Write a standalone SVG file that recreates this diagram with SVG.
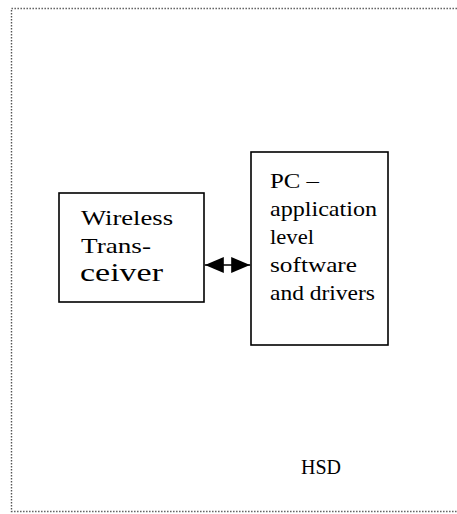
<svg xmlns="http://www.w3.org/2000/svg" width="457" height="514" viewBox="0 0 457 514">
  <style>
    .frame { fill: none; stroke: #555; stroke-width: 1.4; stroke-dasharray: 1.4 1.6; }
    .box { fill: #fff; stroke: #000; stroke-width: 1.6; }
    .lbl { font-family: "Liberation Serif", "Times New Roman", serif; font-size: 22px; fill: #000; }
    .big { font-size: 25px; }
    .link { stroke: #000; stroke-width: 1.5; fill: none; }
  </style>
  <defs>
    <marker id="head" viewBox="0 0 19 16" refX="19" refY="8" markerWidth="19" markerHeight="16" markerUnits="userSpaceOnUse" orient="auto-start-reverse">
      <path d="M0,0 L19,8 L0,16 Z" fill="#000"/>
    </marker>
  </defs>

  <!-- dotted system boundary -->
  <rect class="frame" x="11.5" y="8.5" width="460" height="503"/>

  <g id="transceiver">
    <rect class="box" x="59" y="193" width="145" height="109"/>
    <text class="lbl" x="81" y="225" textLength="92" lengthAdjust="spacingAndGlyphs">Wireless</text>
    <text class="lbl" x="81" y="253" textLength="70" lengthAdjust="spacingAndGlyphs">Trans-</text>
    <text class="lbl big" x="80" y="281" textLength="83" lengthAdjust="spacingAndGlyphs">ceiver</text>
  </g>

  <g id="pc">
    <rect class="box" x="251" y="152" width="137" height="193"/>
    <text class="lbl" x="270" y="188" textLength="49" lengthAdjust="spacingAndGlyphs">PC –</text>
    <text class="lbl" x="270" y="216" textLength="107" lengthAdjust="spacingAndGlyphs">application</text>
    <text class="lbl" x="270" y="244" textLength="44" lengthAdjust="spacingAndGlyphs">level</text>
    <text class="lbl" x="270" y="272" textLength="87" lengthAdjust="spacingAndGlyphs">software</text>
    <text class="lbl" x="270" y="300" textLength="105" lengthAdjust="spacingAndGlyphs">and drivers</text>
  </g>

  <g id="hsd">
    <text class="lbl" x="301" y="474" textLength="40" lengthAdjust="spacingAndGlyphs">HSD</text>
  </g>

  <g id="connectors">
    <!-- two-way link between transceiver and PC -->
    <path class="link" d="M224,265 H231"/>
    <path class="link" d="M224,265 H204.8" marker-end="url(#head)"/>
    <path class="link" d="M231,265 H250.2" marker-end="url(#head)"/>
  </g>
</svg>
